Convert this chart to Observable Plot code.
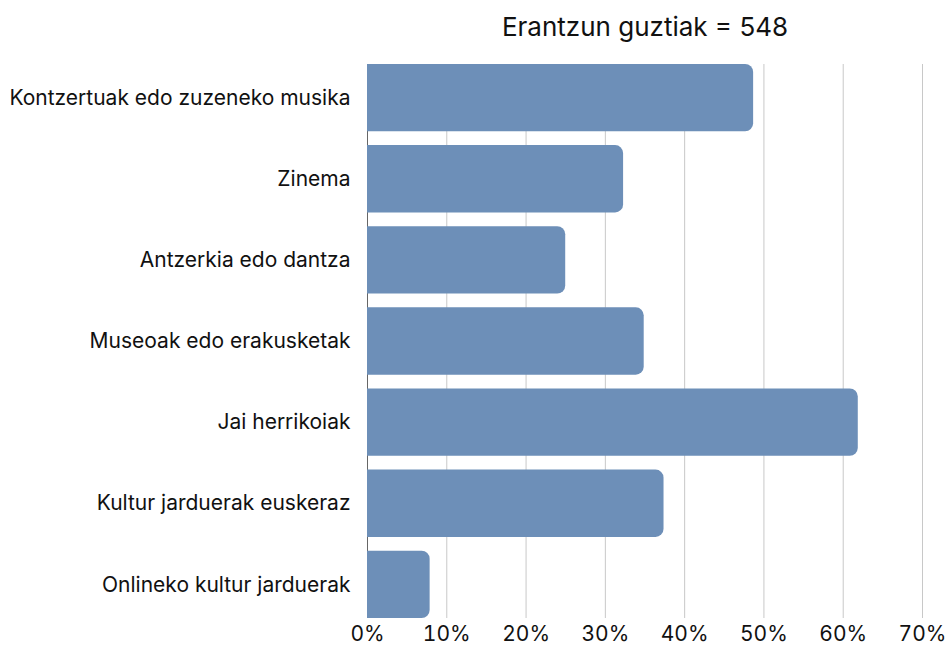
<!DOCTYPE html>
<html>
<head>
<meta charset="utf-8">
<script src="https://cdn.jsdelivr.net/npm/d3@7"></script>
<script src="https://cdn.jsdelivr.net/npm/@observablehq/plot@0.6"></script>
<style>
  html, body { margin: 0; padding: 0; background: #fff; }
  #chart svg { display: block; }
</style>
</head>
<body>
<div id="chart"></div>
<script>
const title = "Erantzun guztiak = 548";
const categories = [
  "Kontzertuak edo zuzeneko musika",
  "Zinema",
  "Antzerkia edo dantza",
  "Museoak edo erakusketak",
  "Jai herrikoiak",
  "Kultur jarduerak euskeraz",
  "Onlineko kultur jarduerak"
];
const values = [0.487, 0.323, 0.250, 0.349, 0.619, 0.374, 0.079];
const xTicks = [0, 0.1, 0.2, 0.3, 0.4, 0.5, 0.6, 0.7];

const data = categories.map((c, i) => ({category: c, value: values[i]}));

const chart = Plot.plot({
  width: 946,
  height: 645,
  marginTop: 64,
  marginBottom: 27,
  marginLeft: 367,
  marginRight: 24,
  style: {fontFamily: "Inter, sans-serif", fontSize: "21px", color: "#111", background: "#fff"},
  x: {domain: [0, 0.7], ticks: xTicks, tickFormat: d3.format(".0%"), label: null, tickSize: 0, tickPadding: 8},
  y: {domain: categories, label: null, tickSize: 0, tickPadding: 17, paddingInner: 0.17, paddingOuter: 0, round: false},
  marks: [
    Plot.gridX(xTicks.filter(d => d > 0), {stroke: "#c8c8c8", strokeOpacity: 1, strokeWidth: 1}),
    Plot.ruleX([0], {stroke: "#666", strokeWidth: 1}),
    Plot.barX(data, {x: "value", y: "category", fill: "#6d8fb8", rx2: 8}),
    Plot.text([title], {frameAnchor: "top", dy: -47, fontSize: 26, fill: "#111"})
  ]
});
document.getElementById("chart").append(chart);
</script>
</body>
</html>
